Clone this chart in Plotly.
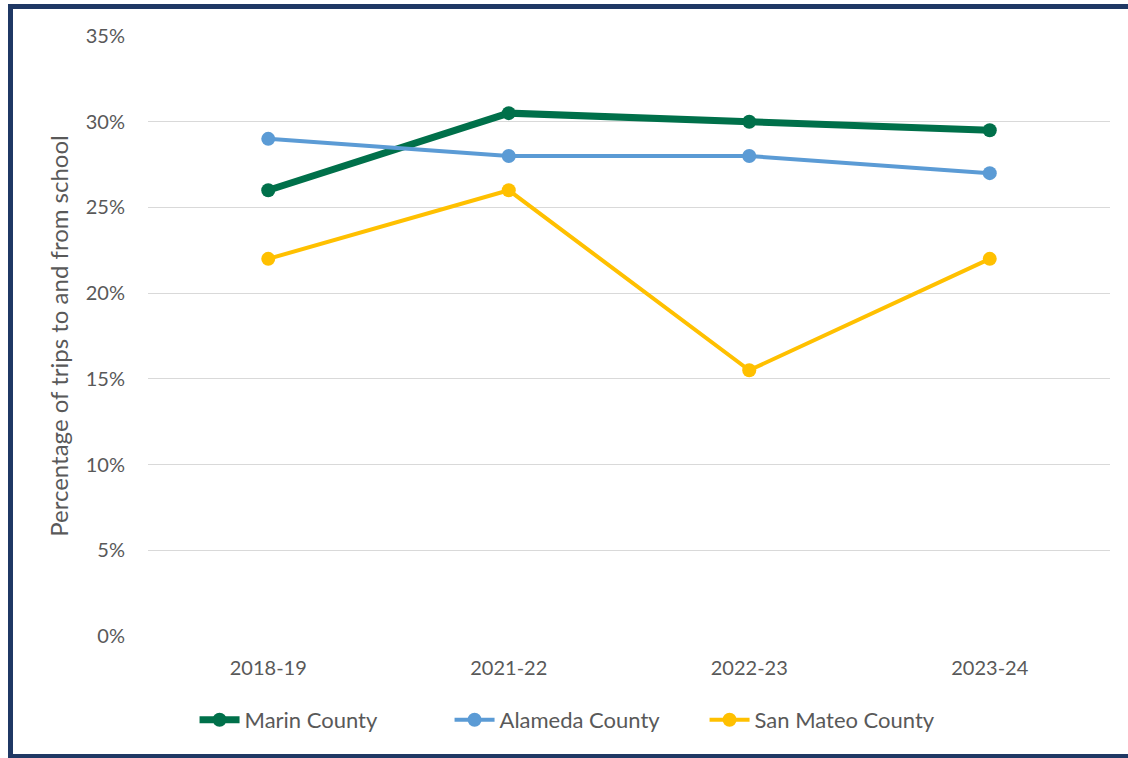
import plotly.graph_objects as go

years = ["2018-19", "2021-22", "2022-23", "2023-24"]
marin = [26.0, 30.5, 30.0, 29.5]
alameda = [29.0, 28.0, 28.0, 27.0]
san_mateo = [22.0, 26.0, 15.5, 22.0]

series = [
    ("Marin County", marin, "#00704A", 7),
    ("Alameda County", alameda, "#5B9BD5", 4),
    ("San Mateo County", san_mateo, "#FFC000", 4),
]

W, H = 1128, 758
L, R, T, B = 148, 18, 36, 122

fig = go.Figure()
for name, vals, color, lw in series:
    fig.add_trace(go.Scatter(
        x=years, y=vals, name=name, mode="lines+markers",
        line=dict(color=color, width=lw),
        marker=dict(color=color, size=14),
    ))

font = "Lato, 'Open Sans', sans-serif"
grey = "#595959"

fig.update_layout(
    width=W, height=H,
    margin=dict(l=L, r=R, t=T, b=B),
    paper_bgcolor="white", plot_bgcolor="white",
    font=dict(family=font, color=grey, size=20),
    showlegend=True,
    legend=dict(orientation="h", x=0.446, xanchor="center", y=-0.105, yanchor="top",
                font=dict(size=22, color=grey), itemwidth=40,
                entrywidth=200, entrywidthmode="pixels",
                tracegroupgap=0),
    xaxis=dict(type="category", range=[-0.5, 3.5], showgrid=False, zeroline=False,
               showline=False, ticks="outside", ticklen=14, tickcolor="rgba(0,0,0,0)",
               tickfont=dict(size=20, color=grey)),
    yaxis=dict(range=[0, 35], dtick=5, ticksuffix="%", showgrid=True,
               gridcolor="#D9D9D9", gridwidth=1, zeroline=False, showline=False,
               ticks="outside", ticklen=18, tickcolor="rgba(0,0,0,0)",
               tickfont=dict(size=20, color=grey),
               title=dict(text="Percentage of trips to and from school",
                          font=dict(size=24, color=grey), standoff=10)),
)

# navy frame around the chart area
pw, ph = W - L - R, H - T - B
x0 = (10.5 - L) / pw
x1 = (1132 - L) / pw
y1 = (H - B - 6.5) / ph
y0 = (H - B - 756.5) / ph
fig.add_shape(type="rect", xref="paper", yref="paper", x0=x0, x1=x1, y0=y0, y1=y1,
              line=dict(color="#1F3864", width=5), fillcolor="rgba(0,0,0,0)",
              layer="below")

fig.write_html("out.html")
